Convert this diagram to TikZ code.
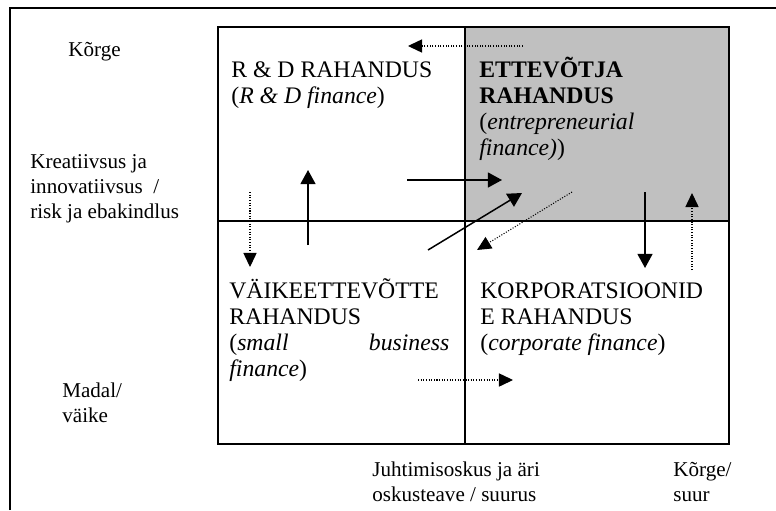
\documentclass[tikz,border=0pt]{standalone}
\usepackage{fontspec}
\setmainfont{Liberation Serif}
\usetikzlibrary{arrows.meta, positioning}
\definecolor{quadgray}{RGB}{192,192,192}
\tikzset{
  quadtext/.style={anchor=base west, inner sep=0pt, align=left,
    font=\fontsize{13.5}{14.75}\selectfont},
  axislabel/.style={anchor=base west, inner sep=0pt, align=left,
    font=\fontsize{12}{14.2}\selectfont},
  solidarrow/.style={-{Triangle[length=8pt, width=8.5pt]}, line width=0.85pt},
  dotarrow/.style={-{Triangle[length=8pt, width=7.5pt]}, line width=0.6pt,
    dash pattern=on 0.6pt off 0.9pt}
}

\begin{document}
\begin{tikzpicture}[x=0.02cm, y=-0.02cm]
  \useasboundingbox (0,0) rectangle (776,510);

  % grey quadrant
  \fill[quadgray] (465,27) rectangle (729,221);

  % outer frame
  \draw[line width=0.8pt] (10,510) -- (10,8) -- (776,8);

  % matrix
  \draw[line width=0.85pt] (465,27) -- (465,444) (218,221) -- (729,221);
  \draw[line width=1.1pt] (218,27) rectangle (729,444);

  % quadrants (base = last line)
  \node[quadtext] (rd) at (231,103) {R \& D RAHANDUS\\(\textit{R \& D finance})};
  \node[quadtext] (ent) at (479,155) {\textbf{ETTEVÕTJA}\\\textbf{RAHANDUS}\\(\textit{entrepreneurial}\\\textit{finance)})};
  \node[quadtext] (small) at (229,376) {VÄIKEETTEVÕTTE\\RAHANDUS\\\hbox to 4.4cm{(\textit{small}\hfill\textit{business}}\\\textit{finance})};
  \node[quadtext] (corp) at (480,350) {KORPORATSIOONID\\E RAHANDUS\\(\textit{corporate finance})};

  % axis labels
  \node[axislabel] (high) at (68,57) {Kõrge};
  \node[axislabel] (creat) at (30,218) {Kreatiivsus ja\\innovatiivsus\ \ /\\risk ja ebakindlus};
  \node[axislabel] (low) at (62,422) {Madal/\\väike};
  \node[axislabel] (mgmt) at (372,501) {Juhtimisoskus ja äri\\oskusteave / suurus};
  \node[axislabel] (big) at (673,501) {Kõrge/\\suur};

  % arrow ends
  \coordinate (entback) at (523,46);
  \coordinate (rdback) at (408,46);
  \coordinate (smallup) at (308,245);
  \coordinate (rdup) at (308,170);
  \coordinate (rddown) at (250,192);
  \coordinate (smalldown) at (250,267);
  \coordinate (rdright) at (407,180);
  \coordinate (entleft) at (502,180);
  \coordinate (smalldiag) at (428,250);
  \coordinate (entdiag) at (522,193);
  \coordinate (entback2) at (572,192);
  \coordinate (smallback) at (477,250);
  \coordinate (entdown) at (645,192);
  \coordinate (corpup) at (645,268);
  \coordinate (corpback) at (692,270);
  \coordinate (entup) at (692,193);
  \coordinate (smallright) at (418,380);
  \coordinate (corpleft) at (513,380);

  % arrows
  \draw[dotarrow] (entback) -- (rdback);
  \draw[solidarrow] (smallup) -- (rdup);
  \draw[dotarrow] (rddown) -- (smalldown);
  \draw[solidarrow] (rdright) -- (entleft);
  \draw[solidarrow] (smalldiag) -- (entdiag);
  \draw[dotarrow] (entback2) -- (smallback);
  \draw[solidarrow] (entdown) -- (corpup);
  \draw[dotarrow] (corpback) -- (entup);
  \draw[dotarrow] (smallright) -- (corpleft);
\end{tikzpicture}
\end{document}
